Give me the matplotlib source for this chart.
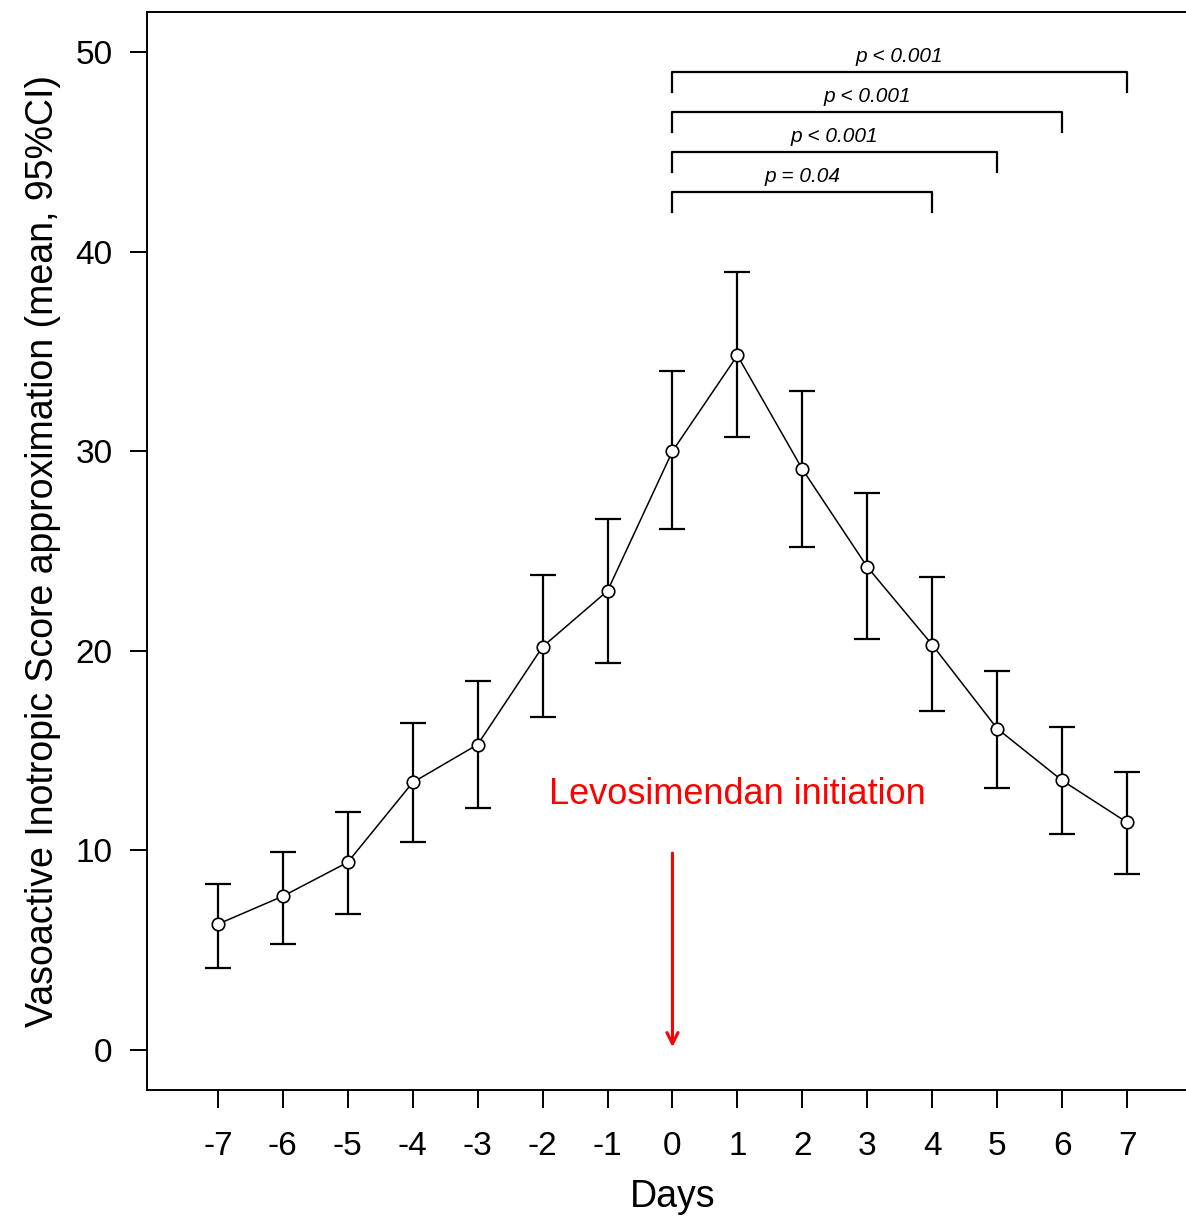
import matplotlib
matplotlib.use("Agg")
import matplotlib.pyplot as plt

plt.rcParams["font.family"] = ["Liberation Sans", "DejaVu Sans"]

# Data
days = [-7, -6, -5, -4, -3, -2, -1, 0, 1, 2, 3, 4, 5, 6, 7]
mean = [6.3, 7.7, 9.4, 13.4, 15.3, 20.2, 23.0, 30.0, 34.8, 29.1, 24.2, 20.3, 16.1, 13.5, 11.4]
upper = [8.3, 9.9, 11.9, 16.4, 18.5, 23.8, 26.6, 34.0, 39.0, 33.0, 27.9, 23.7, 19.0, 16.2, 13.9]
lower = [4.1, 5.3, 6.8, 10.4, 12.1, 16.7, 19.4, 26.1, 30.7, 25.2, 20.6, 17.0, 13.1, 10.8, 8.8]

# significance brackets: comparison day, bracket height, label
comp_days = [7, 6, 5, 4]
bracket_y = [49, 47, 45, 43]
p_labels = ["p < 0.001", "p < 0.001", "p < 0.001", "p = 0.04"]

fig = plt.figure(figsize=(11.86, 12.19), dpi=100)
ax = fig.add_axes([0.124, 0.106, 0.886, 0.884])

yerr = [[m - l for m, l in zip(mean, lower)], [u - m for u, m in zip(upper, mean)]]
ax.errorbar(days, mean, yerr=yerr, fmt="none", ecolor="black", elinewidth=1.6,
            capsize=9.5, capthick=1.6)
ax.plot(days, mean, color="black", lw=1.1, marker="o", markersize=9,
        markerfacecolor="white", markeredgecolor="black", markeredgewidth=1.2)

# brackets
for d, y, lab in zip(comp_days, bracket_y, p_labels):
    ax.plot([0, 0, d, d], [y - 1, y, y, y - 1], color="black", lw=1.6)
    ax.text(d / 2, y + 0.3, lab, ha="center", va="bottom", style="italic", fontsize=15)

# levosimendan marker
ax.annotate("", xy=(0, 0), xytext=(0, 10),
            arrowprops=dict(arrowstyle="->", color="red", lw=2.2, mutation_scale=20))
ax.text(1, 12.8, "Levosimendan initiation", color="red", fontsize=26,
        ha="center", va="center")

ax.set_xlim(-8.09, 8.09)
ax.set_ylim(-2, 52)
ax.set_xticks(days)
ax.set_xticklabels([str(d) for d in days])
ax.set_yticks([0, 10, 20, 30, 40, 50])
ax.tick_params(axis="x", length=13, width=1.4, pad=17, labelsize=24)
ax.tick_params(axis="y", length=12, width=1.4, pad=13, labelsize=24)
for s in ax.spines.values():
    s.set_linewidth(1.4)

ax.set_xlabel("Days", fontsize=27, labelpad=12)
ax.set_ylabel("Vasoactive Inotropic Score approximation (mean, 95%CI)", fontsize=27, labelpad=10)

plt.savefig("out.png", dpi=100)
